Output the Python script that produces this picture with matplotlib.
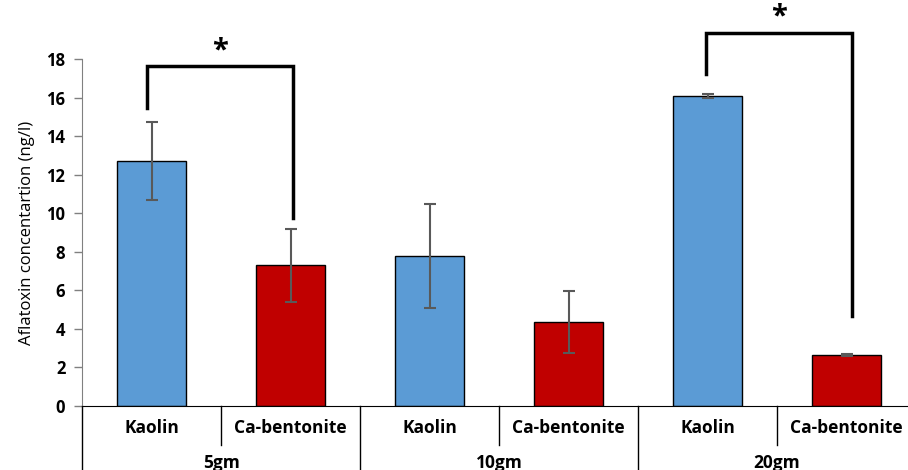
import matplotlib.pyplot as plt
import numpy as np

# values
doses = ['5gm', '10gm', '20gm']
materials = ['Kaolin', 'Ca-bentonite']
means = [12.7, 7.3, 7.8, 4.35, 16.1, 2.65]
errors = [2.03, 1.9, 2.7, 1.6, 0.1, 0.04]
colors = ['#5B9BD5', '#C00000'] * 3

plt.rcParams['font.family'] = ['Open Sans', 'DejaVu Sans']

fig = plt.figure(figsize=(9.08, 4.70), dpi=100)
ax = fig.add_axes([82 / 908, 1 - 406 / 470, (916 - 82) / 908, (406 - 59) / 470])

x = np.arange(len(means))
ax.bar(x, means, width=0.5, color=colors, edgecolor='black', linewidth=1, zorder=2)
ax.errorbar(x, means, yerr=errors, fmt='none', ecolor='#595959', elinewidth=1.5,
            capsize=4, capthick=1.5, zorder=3)

ax.set_xlim(-0.5, 5.5)
ax.set_ylim(0, 18)
ax.set_yticks(range(0, 19, 2))
ax.tick_params(axis='y', direction='out', length=6, width=1, color='#808080',
               labelsize=12, pad=6)
for lbl in ax.get_yticklabels():
    lbl.set_fontweight('bold')
ax.set_xticks([])
ax.spines['top'].set_visible(False)
ax.spines['right'].set_visible(False)
ax.spines['left'].set_color('#808080')
ax.spines['bottom'].set_color('black')
ax.set_ylabel('Aflatoxin concentartion (ng/l)', fontsize=12, labelpad=8)

# two-level category axis
tr = ax.get_xaxis_transform()
for i in range(len(means)):
    ax.text(x[i], -0.063, materials[i % 2], transform=tr, ha='center', va='center',
            fontsize=12.5, fontweight='bold')
for g, d in enumerate(doses):
    ax.text(2 * g + 0.5, -0.165, d, transform=tr, ha='center', va='center',
            fontsize=12.5, fontweight='bold')
    # inner separator between the two materials
    ax.plot([2 * g + 0.5] * 2, [0, -0.112], transform=tr, color='black', lw=1, clip_on=False)
for b in [-0.5, 1.5, 3.5, 5.5]:
    ax.plot([b, b], [0, -0.2], transform=tr, color='black', lw=1, clip_on=False)

# significance brackets
def bracket(x0, x1, ytop, y0, y1):
    ax.plot([x0, x0, x1, x1], [y0, ytop, ytop, y1], color='black', lw=2.5,
            clip_on=False, solid_joinstyle='miter')
    ax.text((x0 + x1) / 2, ytop + 0.05, '*', ha='center', va='bottom',
            fontsize=21, fontweight='bold')

bracket(-0.03, 1.02, 17.63, 15.46, 9.75)
bracket(3.99, 5.04, 19.36, 17.22, 4.67)

fig.savefig('out.png', dpi=100)
